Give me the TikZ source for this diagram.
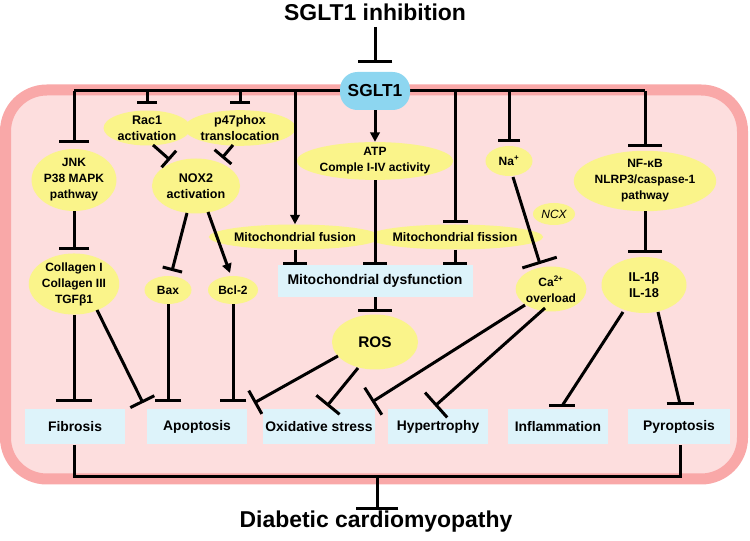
\documentclass[tikz,border=0pt]{standalone}
\usepackage{fontspec}
\setmainfont{Liberation Sans}
\usetikzlibrary{arrows.meta,shapes.geometric,calc}
\definecolor{bgpink}{HTML}{FDDEDE}
\definecolor{bdpink}{HTML}{F9A8A8}
\definecolor{yel}{HTML}{FAF48A}
\definecolor{boxblue}{HTML}{DDF3FA}
\definecolor{sgltblue}{HTML}{8DD6F0}
\tikzset{
 ln/.style={line width=2.25pt},
 inh/.style={ln,-{Bar[width=#1]}},
 act/.style={ln,-{Triangle[length=7pt,width=7pt]}},
 el/.style 2 args={ellipse, fill=yel, inner sep=0pt, minimum width=#1*0.75pt, minimum height=#2*0.75pt, align=center, font=\fontsize{9}{12}\selectfont\bfseries},
 bx/.style={fill=boxblue, inner sep=0pt, minimum width=#1*0.75pt, minimum height=26.25pt, font=\fontsize{10.4}{12}\selectfont\bfseries},
 big/.style={font=\fontsize{17.2}{20}\selectfont\bfseries, inner sep=0pt},
}
\begin{document}
\begin{tikzpicture}[x=0.75pt,y=-0.75pt]
\useasboundingbox (0,0) rectangle (750,541);
% outer cell
\draw[draw=bdpink, fill=bgpink, line width=8.25pt, rounded corners=31pt] (5.5,90) rectangle (742.5,479);
% bus
\coordinate (b1) at (74,91);
\coordinate (b2) at (147,91);
\coordinate (b3) at (240,91);
\coordinate (b4) at (295,91);
\coordinate (b6) at (455,91);
\coordinate (b7) at (509,91);
\coordinate (b8) at (645,91);
\draw[ln] (b1) -- (b8);
% nodes
\node[big] (title) at (375,12) {SGLT1 inhibition};
\node[fill=sgltblue, rounded corners=13pt, minimum width=52.5pt, minimum height=28.5pt, inner sep=0pt, font=\fontsize{13}{15}\selectfont\bfseries] (sglt) at (375,91) {SGLT1};
\node[el={75}{62}] (jnk) at (74,180) {JNK\\P38 MAPK\\pathway};
\node[el={87}{34}, font=\fontsize{9.4}{12}\selectfont\bfseries] (rac) at (147,128) {Rac1\\activation};
\node[el={86}{34}, font=\fontsize{9.4}{12}\selectfont\bfseries] (p47) at (240,128) {p47phox\\translocation};
\node[el={88}{55}, font=\fontsize{9.4}{12}\selectfont\bfseries] (nox) at (196,186) {NOX2\\activation};
\node[el={80}{58}] (col) at (74,284) {Collagen I\\Collagen III\\TGFβ1};
\node[el={47}{28}] (bax) at (168,290) {Bax};
\node[el={50}{28}] (bcl) at (233,290) {Bcl-2};
\node[el={135}{25}, font=\fontsize{9.3}{12}\selectfont\bfseries] (fusion) at (295,237) {Mitochondrial fusion};
\node[el={140}{37}] (atp) at (375,161) {ATP\\Comple I-IV activity};
\node[el={135}{25}, font=\fontsize{9.3}{12}\selectfont\bfseries] (fission) at (455,237) {Mitochondrial fission};
\node[fill=boxblue, inner sep=0pt, minimum width=146.25pt, minimum height=24pt, font=\fontsize{10.5}{12}\selectfont\bfseries] (dys) at (375,281) {Mitochondrial dysfunction};
\node[el={47}{30}] (na) at (509,161) {Na\textsuperscript{+}};
\node[el={42}{22}, font=\fontsize{9}{12}\selectfont\itshape] (ncx) at (554,214) {NCX};
\node[el={60}{45}] (ca) at (551,289) {Ca\textsuperscript{2+}\\overload};
\node[el={97}{55}] (nfkb) at (645,181) {NF-κB\\NLRP3/caspase-1\\pathway};
\node[el={85}{56}, font=\fontsize{9.6}{12}\selectfont\bfseries] (il) at (644,285) {IL-1β\\IL-18};
\node[el={86}{55}, font=\fontsize{11.5}{13}\selectfont\bfseries] (ros) at (375,342) {ROS};
\node[bx=100] (fib) at (75,427) {Fibrosis};
\node[bx=100] (apo) at (197,427) {Apoptosis};
\node[bx=112] (oxs) at (319,427) {Oxidative stress};
\node[bx=100] (hyp) at (438,427) {Hypertrophy};
\node[bx=100] (inf) at (558,427) {Inflammation};
\node[bx=102] (pyr) at (679,427) {Pyroptosis};
\node[big] (dcm) at (376,522) {Diabetic cardiomyopathy};
% connectors
\draw[inh={26pt}] ($(title)+(0,15)$) -- ($(sglt.north)+(0,-9)$);
\draw[inh={22.5pt}] (b1) -- ($(jnk.north)+(0,-6)$);
\draw[inh={15pt}] (b2) -- ($(rac.north)+(0,-6)$);
\draw[inh={15pt}] (b3) -- ($(p47.north)+(0,-6)$);
\draw[inh={16.5pt}] ($(rac)+(6,17)$) -- ($(nox)+(-26,-26)$);
\draw[inh={16.5pt}] ($(p47)+(-7,17)$) -- ($(nox)+(26,-28)$);
\draw[act] (b4) -- (fusion.north);
\draw[act] (sglt.south) -- (atp.north);
\draw[inh={18.75pt}] (b6) -- ($(fission.north)+(0,-1.5)$);
\draw[inh={17pt}] (b7) -- ($(na.north)+(0,-4)$);
\draw[inh={26pt}] (b8) -- ($(nfkb.north)+(0,-4)$);
\draw[inh={23pt}] (jnk.south) -- ($(col.north)+(0,-3)$);
\draw[inh={27pt}] (col.south) -- ($(col.south |- fib.north)+(0,-7)$);
\draw[inh={20pt}] ($(col)+(23,26)$) -- ($(apo)+(-54,-24)$);
\draw[inh={15pt}] ($(nox)+(-9,27)$) -- ($(bax)+(4,-19)$);
\draw[act] ($(nox)+(12,26)$) -- ($(bcl)+(-3,-17)$);
\draw[inh={20pt}] (bax.south) -- ($(bax.south |- apo.north)+(0,-7)$);
\draw[inh={20pt}] (bcl.south) -- ($(bcl.south |- apo.north)+(0,-7)$);
\draw[inh={18pt}] (fusion.south) -- (fusion.south |- dys.north);
\draw[inh={18pt}] (atp.south) -- (atp.south |- dys.north);
\draw[inh={18pt}] (fission.south) -- (fission.south |- dys.north);
\draw[inh={25pt}] (dys.south) -- ($(ros.north)+(0,-2)$);
\draw[inh={27pt}] ($(na)+(4,16)$) -- ($(ca)+(-11,-25)$);
\draw[inh={25.5pt}] (nfkb.south) -- ($(nfkb.south |- il.north)+(0,-4)$);
\draw[inh={20pt}] ($(ros)+(-37,14)$) -- ($(oxs)+(-65,-24)$);
\draw[inh={22.5pt}] ($(ros)+(-17,26)$) -- ($(oxs)+(8,-21)$);
\draw[inh={24pt}] ($(ca)+(-26,16)$) -- ($(oxs)+(53,-25)$);
\draw[inh={25pt}] ($(ca)+(-6,19)$) -- ($(hyp)+(-3,-21)$);
\draw[ln] ($(il)+(-21,27)$) -- ($(inf)+(4,-21)$) coordinate (t1);
\draw[ln] ($(t1)+(-13,0)$) -- ($(t1)+(13,0)$);
\draw[ln] ($(il)+(14,27)$) -- ($(pyr)+(1,-23)$) coordinate (t2);
\draw[ln] ($(t2)+(-13.5,0)$) -- ($(t2)+(13.5,0)$);
\coordinate (bot) at (377,477);
\draw[ln] (col.south |- fib.south) -- (col.south |- bot) -- ($(pyr.south |- bot)+(1,0)$) -- ($(pyr.south)+(1,0)$);
\draw[inh={32pt}] (bot) -- ($(bot)+(0,33)$);
\end{tikzpicture}
\end{document}
